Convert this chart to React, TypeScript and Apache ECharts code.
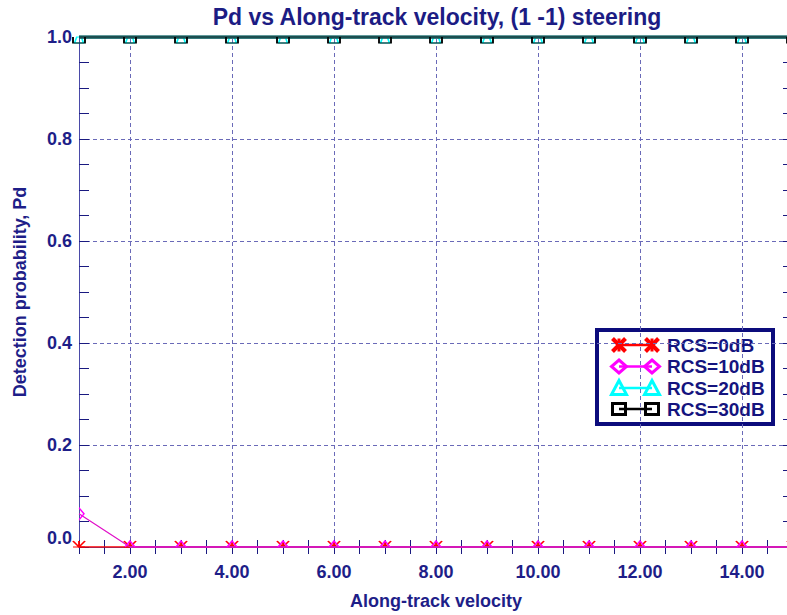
import React, { useEffect, useRef } from "react";
import * as echarts from "echarts";

// Along-track velocity samples and detection probability per target RCS
const velocities = [1, 2, 3, 4, 5, 6, 7, 8, 9, 10, 11, 12, 13, 14, 15];
const pdRcs0dB = [0, 0, 0, 0, 0, 0, 0, 0, 0, 0, 0, 0, 0, 0, 0];
const pdRcs10dB = [0.065, 0, 0, 0, 0, 0, 0, 0, 0, 0, 0, 0, 0, 0, 0];
const pdRcs20dB = [1, 1, 1, 1, 1, 1, 1, 1, 1, 1, 1, 1, 1, 1, 1];
const pdRcs30dB = [1, 1, 1, 1, 1, 1, 1, 1, 1, 1, 1, 1, 1, 1, 1];

const seriesNames = ["RCS=0dB", "RCS=10dB", "RCS=20dB", "RCS=30dB"];
const seriesColors = ["#ff0000", "#ff00ff", "#00ffff", "#000000"];

const xMin = 1;
const xMax = 15;
const yMin = 0;
const yMax = 1;
const xLabelValues = [2, 4, 6, 8, 10, 12, 14];

const TITLE = "Pd vs Along-track velocity, (1 -1) steering";
const X_NAME = "Along-track velocity";
const Y_NAME = "Detection probability, Pd";

const FONT = "'Liberation Sans', Arial, Helvetica, sans-serif";
const NAVY = "#1e1e88";
const AXIS = "#4a4aa8";
const GRID = "#6a6ab8";

// Full marker shapes, plus the part that stays visible when a point sits on
// the bottom (upper half), top (lower half) or left (right half) frame edge.
type Marker = { full: string; upper: string; lower: string; right: string; w: number; h: number };
const markers: Marker[] = [
  {
    full: "path://M0,0L10,10M10,0L0,10M5,0L5,10M0,5L10,5",
    upper: "path://M0,0L5,5L10,0M5,0L5,5M0,5L10,5",
    lower: "path://M0,5L5,0L10,5M5,0L5,5M0,0L10,0",
    right: "path://M5,0L0,5L5,10M0,0L0,10M0,5L5,5",
    w: 12,
    h: 12,
  },
  {
    full: "path://M5,0L10,5L5,10L0,5Z",
    upper: "path://M0,5L5,0L10,5",
    lower: "path://M0,0L5,5L10,0",
    right: "path://M0,0L5,5L0,10",
    w: 10,
    h: 12,
  },
  {
    full: "path://M5,0L10,10L0,10Z",
    upper: "path://M5,0L7.5,5L2.5,5Z",
    lower: "path://M2.5,0L7.5,0L10,5L0,5Z",
    right: "path://M0,0L5,10L0,10",
    w: 9,
    h: 12,
  },
  {
    full: "path://M0,0L10,0L10,10L0,10Z",
    upper: "path://M0,5L0,0L10,0L10,5",
    lower: "path://M0,0L0,5L10,5L10,0",
    right: "path://M0,0L5,0L5,10L0,10",
    w: 12,
    h: 12,
  },
];

function pointsFor(values: number[], m: Marker) {
  return values.map((v, i) => {
    const x = velocities[i];
    if (v <= yMin) {
      return {
        value: [x, v],
        symbol: m.upper,
        symbolSize: [m.w, m.h / 2],
        symbolOffset: [0, -m.h / 4],
      };
    }
    if (v >= yMax) {
      return {
        value: [x, v],
        symbol: m.lower,
        symbolSize: [m.w, m.h / 2],
        symbolOffset: [0, m.h / 4],
      };
    }
    if (x <= xMin) {
      return {
        value: [x, v],
        symbol: m.right,
        symbolSize: [m.w / 2, m.h],
        symbolOffset: [m.w / 4, 0],
      };
    }
    return { value: [x, v], symbol: m.full, symbolSize: [m.w, m.h] };
  });
}

function legendGraphic() {
  const boxX = 597;
  const boxY = 330;
  const rowY = [345, 366.5, 388, 409];
  const leftX = 619;
  const rightX = 652;
  const s = 6.5;
  const children: any[] = [
    {
      type: "rect",
      shape: { x: boxX, y: boxY, width: 176, height: 94 },
      style: { fill: "#ffffff", stroke: "#0c0c7c", lineWidth: 4 },
    },
  ];
  const symbolAt = (k: number, cx: number, cy: number) => {
    const c = seriesColors[k];
    const st = { fill: "none", stroke: c, lineWidth: 3 };
    if (k === 0) {
      return [
        { type: "line", shape: { x1: cx - s, y1: cy - s, x2: cx + s, y2: cy + s }, style: { stroke: c, lineWidth: 4 } },
        { type: "line", shape: { x1: cx + s, y1: cy - s, x2: cx - s, y2: cy + s }, style: { stroke: c, lineWidth: 4 } },
        { type: "line", shape: { x1: cx, y1: cy - s, x2: cx, y2: cy + s }, style: { stroke: c, lineWidth: 3 } },
      ];
    }
    if (k === 1) {
      return [
        {
          type: "polygon",
          shape: { points: [[cx, cy - s], [cx + s + 1, cy], [cx, cy + s], [cx - s - 1, cy]] },
          style: st,
        },
      ];
    }
    if (k === 2) {
      return [
        {
          type: "polygon",
          shape: { points: [[cx, cy - s - 1], [cx + s + 1, cy + s], [cx - s - 1, cy + s]] },
          style: st,
        },
      ];
    }
    return [
      {
        type: "rect",
        shape: { x: cx - s, y: cy - s + 1, width: 2 * s, height: 2 * s - 2 },
        style: st,
      },
    ];
  };
  seriesNames.forEach((name, k) => {
    const cy = rowY[k];
    children.push({
      type: "line",
      shape: { x1: leftX, y1: cy, x2: rightX, y2: cy },
      style: { stroke: seriesColors[k], lineWidth: 2.5 },
    });
    children.push(...symbolAt(k, leftX, cy));
    children.push(...symbolAt(k, rightX, cy));
    children.push({
      type: "text",
      x: 667,
      y: cy,
      style: {
        text: name,
        fill: "#14147e",
        font: `bold 19px ${FONT}`,
        verticalAlign: "middle",
        align: "left",
      },
    });
  });
  return { type: "group", children };
}

export default function App() {
  const ref = useRef<HTMLDivElement>(null);

  useEffect(() => {
    document.body.style.margin = "0";
    if (!ref.current) return;
    const chart = echarts.init(ref.current, null, { renderer: "svg" });

    const tickLabel = {
      fontFamily: FONT,
      fontSize: 18,
      fontWeight: "bold" as const,
      color: NAVY,
    };
    const nameStyle = {
      fontFamily: FONT,
      fontSize: 18,
      fontWeight: "bold" as const,
      color: NAVY,
    };

    const seriesValues = [pdRcs0dB, pdRcs10dB, pdRcs20dB, pdRcs30dB];
    const lineWidths = [1.5, 1.2, 3, 3.5];
    const lineColors = ["#ff0000", "#e010c8", "#00ffff", "#1c4e50"];

    const series: any[] = seriesValues.map((vals, k) => ({
      name: seriesNames[k],
      type: "line",
      xAxisIndex: 0,
      yAxisIndex: 0,
      data: pointsFor(vals, markers[k]),
      showAllSymbol: true,
      clip: true,
      z: 3 + k,
      lineStyle: { color: lineColors[k], width: lineWidths[k] },
      itemStyle: {
        color: "rgba(0,0,0,0)",
        borderColor: seriesColors[k],
        borderWidth: 1.3,
      },
      emphasis: { disabled: true },
    }));

    // Dashed vertical grid lines at the labelled velocities
    series[0].markLine = {
      silent: true,
      symbol: ["none", "none"],
      label: { show: false },
      lineStyle: { type: [4, 3], color: GRID, width: 1 },
      data: xLabelValues.map((v) => ({ xAxis: v })),
      z: 1,
    };

    // Thicker magenta trace along the floor of the plot
    const floorStart = pdRcs10dB.findIndex((v) => v <= yMin);
    series.push({
      name: "floor",
      type: "line",
      data: velocities.slice(floorStart).map((x, i) => [x, pdRcs10dB[floorStart + i]]),
      symbol: "none",
      clip: true,
      z: 4,
      lineStyle: { color: "#d418b8", width: 2 },
      emphasis: { disabled: true },
    });

    chart.setOption({
      animation: false,
      backgroundColor: "#ffffff",
      grid: {
        left: 79,
        right: -6,
        top: 37,
        bottom: 68,
        containLabel: false,
        outerBoundsMode: "none",
      },
      xAxis: [
        {
          type: "value",
          position: "bottom",
          min: xMin,
          max: xMax,
          interval: 0.5,
          axisLine: { show: true, lineStyle: { color: AXIS, width: 1 } },
          axisTick: { show: true, inside: true, length: 7, lineStyle: { color: "#1a1a80" } },
          axisLabel: {
            ...tickLabel,
            margin: 16,
            showMinLabel: true,
            showMaxLabel: true,
            formatter: (v: number) =>
              xLabelValues.includes(Math.round(v * 100) / 100) ? v.toFixed(2) : "",
          },
          splitLine: { show: false },
          name: X_NAME,
          nameLocation: "middle",
          nameGap: 45,
          nameTextStyle: nameStyle,
        },
        {
          type: "value",
          position: "top",
          min: xMin,
          max: xMax,
          interval: 0.5,
          axisLine: { show: true, lineStyle: { color: AXIS, width: 1 } },
          axisTick: { show: true, inside: true, length: 7, lineStyle: { color: "#1a1a80" } },
          axisLabel: { show: false },
          splitLine: { show: false },
        },
      ],
      yAxis: [
        {
          type: "value",
          position: "left",
          min: yMin,
          max: yMax,
          interval: 0.2,
          axisLine: { show: true, lineStyle: { color: AXIS, width: 1 } },
          axisTick: { show: true, inside: true, length: 10, lineStyle: { color: "#1a1a80" } },
          minorTick: { show: true, splitNumber: 4, length: 10, lineStyle: { color: "#1a1a80" } },
          axisLabel: {
            ...tickLabel,
            margin: 7,
            showMinLabel: true,
            showMaxLabel: true,
            verticalAlignMinLabel: "bottom",
            formatter: (v: number) => v.toFixed(1),
          },
          splitLine: { show: true, lineStyle: { type: [4, 3], color: GRID, width: 1 } },
          name: Y_NAME,
          nameLocation: "middle",
          nameGap: 50,
          nameRotate: 90,
          nameTextStyle: nameStyle,
        },
        {
          type: "value",
          position: "right",
          min: yMin,
          max: yMax,
          interval: 0.2,
          axisLine: { show: true, lineStyle: { color: AXIS, width: 1 } },
          axisTick: { show: true, inside: true, length: 10, lineStyle: { color: "#1a1a80" } },
          minorTick: { show: true, splitNumber: 4, length: 10, lineStyle: { color: "#1a1a80" } },
          axisLabel: { show: false },
          splitLine: { show: false },
        },
      ],
      series,
      graphic: [
        {
          type: "text",
          x: 437,
          y: 17,
          z: 10,
          style: {
            text: TITLE,
            fill: "#1c1c84",
            font: `bold 23px ${FONT}`,
            align: "center",
            verticalAlign: "middle",
          },
        },
        { ...legendGraphic(), z: 10 },
      ],
    });

    return () => chart.dispose();
  }, []);

  return <div ref={ref} style={{ width: 787, height: 615 }} />;
}
